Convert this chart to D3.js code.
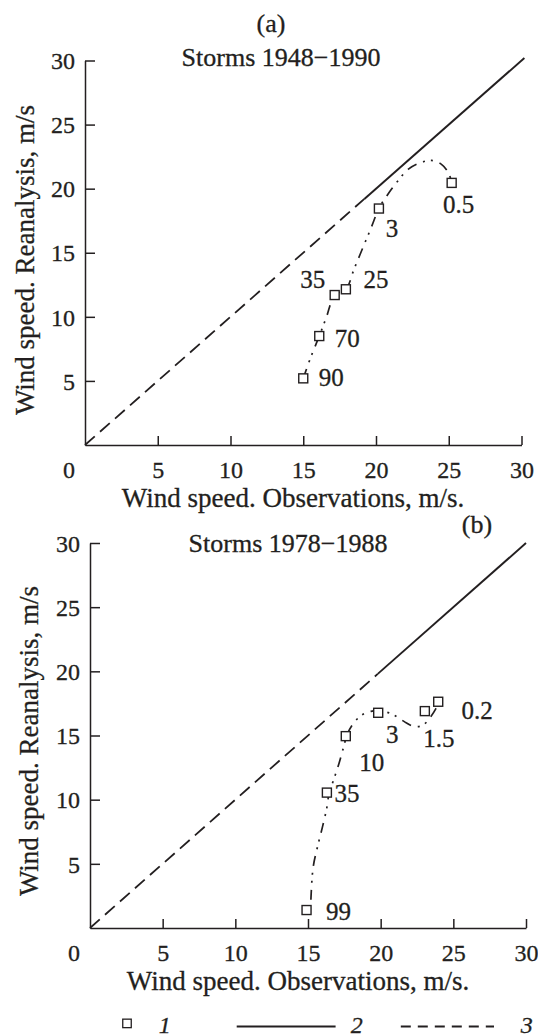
<!DOCTYPE html>
<html><head><meta charset="utf-8">
<script src="https://cdn.jsdelivr.net/npm/d3@7"></script>
<style>
body{margin:0;background:#fff}
svg{display:block}
text{font-family:"Liberation Serif","Times New Roman",serif;fill:#231f20;stroke:#231f20;stroke-width:0.3px}
</style>
</head><body>
<svg id="c" width="538" height="1036"></svg>
<script>
// ---- shared ticks ----
const xTicks = [5, 10, 15, 20, 25, 30];
const yTicks = [5, 10, 15, 20, 25, 30];

// ---- panel (a): Storms 1948-1990 ----
const aObs    = [15.0, 16.1, 17.16, 17.93, 20.2, 25.2];
const aRea    = [5.2, 8.5, 11.7, 12.15, 18.45, 20.45];
const aLabels = ["90", "70", "35", "25", "3", "0.5"];
const aCurveObs = [15.0, 15.5, 16.1, 16.6, 17.16, 17.93, 18.5, 19.1, 19.7, 20.2, 20.9, 21.5, 22.2, 23.0, 23.8, 24.5, 25.0, 25.2];
const aCurveRea = [5.2, 6.8, 8.5, 10.0, 11.7, 12.15, 13.75, 15.4, 17.05, 18.45, 19.7, 20.6, 21.5, 22.0, 22.2, 21.9, 21.2, 20.45];
const aRefDashed = [0, 19.2];
const aRefSolid  = [19.2, 30.2];

// ---- panel (b): Storms 1978-1988 ----
const bObs    = [14.9, 16.3, 17.6, 19.83, 23.04, 23.96];
const bRea    = [1.4, 10.55, 14.95, 16.77, 16.9, 17.63];
const bLabels = ["99", "35", "10", "3", "1.5", "0.2"];
const bCurveObs = [15.2, 15.35, 15.65, 16.0, 16.3, 16.45, 16.75, 17.1, 17.45, 17.7, 18.1, 18.7, 19.4, 20.1, 20.9, 21.6, 22.3, 22.9, 23.4, 23.8, 24.0];
const bCurveRea = [2.2, 4.7, 6.3, 7.9, 9.4, 10.5, 11.5, 12.7, 14.1, 15.1, 15.9, 16.6, 16.9, 16.9, 16.6, 16.1, 15.7, 15.8, 16.4, 17.1, 17.6];
const bRefDashed = [0, 19.8];
const bRefSolid  = [19.8, 30.0];

const xTitle = "Wind speed. Observations, m/s.";
const yTitle = "Wind speed. Reanalysis, m/s";
const legendLabels = ["1", "2", "3"];

const svg = d3.select("#c");
const INK = "#231f20";

function drawPanel(cfg) {
  const x = d3.scaleLinear().domain([0, 30]).range(cfg.xr);
  const y = d3.scaleLinear().domain([0, 30]).range(cfg.yr);
  const g = svg.append("g");

  // axes
  const gx = g.append("g").attr("transform", `translate(0,${cfg.yr[0]})`)
    .call(d3.axisBottom(x).tickValues(xTicks).tickSizeInner(-9).tickSizeOuter(0).tickPadding(16));
  const gy = g.append("g").attr("transform", `translate(${cfg.xr[0]},0)`)
    .call(d3.axisLeft(y).tickValues(yTicks).tickSizeInner(-10).tickSizeOuter(0).tickPadding(10));
  [gx, gy].forEach(a => {
    a.attr("font-family", null).attr("font-size", null).style("color", INK);
    a.selectAll("path,line").attr("stroke-width", 1.5);
    a.selectAll("text").style("font-size", "24px");
  });
  gy.selectAll("text").attr("dy", "0.34em");
  gx.selectAll("text").attr("dy", "0.71em");

  // corner zero
  g.append("text").attr("x", cfg.xr[0] - 16).attr("y", cfg.yr[0] + 33)
    .attr("text-anchor", "middle").style("font-size", "24px").text("0");

  // reference lines
  g.append("line")
    .attr("x1", x(cfg.refDashed[0])).attr("y1", y(cfg.refDashed[0]))
    .attr("x2", x(cfg.refDashed[1])).attr("y2", y(cfg.refDashed[1]))
    .attr("stroke", INK).attr("stroke-width", 1.8).attr("stroke-dasharray", "13,7");
  g.append("line")
    .attr("x1", x(cfg.refSolid[0])).attr("y1", y(cfg.refSolid[0]))
    .attr("x2", x(cfg.refSolid[1])).attr("y2", y(cfg.refSolid[1]))
    .attr("stroke", INK).attr("stroke-width", 1.9);

  // fitted dash-dot curve
  const pts = cfg.curveObs.map((v, i) => [v, cfg.curveRea[i]]);
  g.append("path").datum(pts)
    .attr("d", d3.line().x(d => x(d[0])).y(d => y(d[1])).curve(d3.curveCatmullRom.alpha(0.5)))
    .attr("fill", "none").attr("stroke", INK).attr("stroke-width", 1.7)
    .attr("stroke-dasharray", "10,7,2,6,2,7");

  // squares
  const s = 9;
  g.selectAll("rect.pt").data(cfg.obs).join("rect").attr("class", "pt")
    .attr("x", (d) => x(d) - s / 2)
    .attr("y", (d, i) => y(cfg.rea[i]) - s / 2)
    .attr("width", s).attr("height", s)
    .attr("fill", "#fff").attr("stroke", INK).attr("stroke-width", 1.4);

  // point labels
  g.selectAll("text.pl").data(cfg.labels).join("text").attr("class", "pl")
    .attr("x", (d, i) => x(cfg.obs[i]) + cfg.off[i][0])
    .attr("y", (d, i) => y(cfg.rea[i]) + cfg.off[i][1])
    .attr("dy", "0.34em").attr("text-anchor", "middle")
    .style("font-size", "25px").text(d => d);

  // titles
  g.append("text").attr("x", cfg.storm[0]).attr("y", cfg.storm[1]).attr("dy", "0.34em")
    .attr("text-anchor", "middle").style("font-size", "26px").text(cfg.stormText);
  g.append("text").attr("x", cfg.tag[0]).attr("y", cfg.tag[1]).attr("dy", "0.34em")
    .attr("text-anchor", "middle").style("font-size", "26px").text(cfg.tagText);
  g.append("text").attr("x", cfg.xt[0]).attr("y", cfg.xt[1])
    .attr("text-anchor", "middle").style("font-size", "27px").text(xTitle);
  g.append("text").attr("transform", `translate(${cfg.yt[0]},${cfg.yt[1]}) rotate(-90)`)
    .attr("text-anchor", "middle").style("font-size", "27px").text(yTitle);
}

drawPanel({
  xr: [85, 521.5], yr: [445, 60.5],
  obs: aObs, rea: aRea, labels: aLabels,
  curveObs: aCurveObs, curveRea: aCurveRea,
  refDashed: aRefDashed, refSolid: aRefSolid,
  off: [[28, -1], [28, 2], [-22, -16], [30, -10], [13, 20], [7, 22]],
  storm: [281, 57], stormText: "Storms 1948\u22121990",
  tag: [271, 23], tagText: "(a)",
  xt: [293, 507], yt: [33.5, 260]
});

drawPanel({
  xr: [90, 526], yr: [928, 543],
  obs: bObs, rea: bRea, labels: bLabels,
  curveObs: bCurveObs, curveRea: bCurveRea,
  refDashed: bRefDashed, refSolid: bRefSolid,
  off: [[32, 1], [20, 1], [26, 26], [14, 22], [14, 27], [39, 9]],
  storm: [288, 543], stormText: "Storms 1978\u22121988",
  tag: [477, 524], tagText: "(b)",
  xt: [298, 990], yt: [38, 741]
});

// legend
const lg = svg.append("g");
const ly = 1026.5;
lg.append("rect").attr("x", 127 - 4.25).attr("y", 1023.4 - 4.25).attr("width", 8.5).attr("height", 8.5)
  .attr("fill", "#fff").attr("stroke", INK).attr("stroke-width", 1.3);
lg.append("line").attr("x1", 236.7).attr("x2", 335.6).attr("y1", ly).attr("y2", ly)
  .attr("stroke", INK).attr("stroke-width", 1.8);
lg.append("line").attr("x1", 400.8).attr("x2", 494).attr("y1", ly).attr("y2", ly)
  .attr("stroke", INK).attr("stroke-width", 1.8).attr("stroke-dasharray", "10,7");
const lx = [164.7, 356.8, 526.7];
lg.selectAll("text").data(legendLabels).join("text")
  .attr("x", (d, i) => lx[i]).attr("y", 1032.5).attr("text-anchor", "middle")
  .style("font-size", "24px").style("font-style", "italic").text(d => d);
</script>
</body></html>
